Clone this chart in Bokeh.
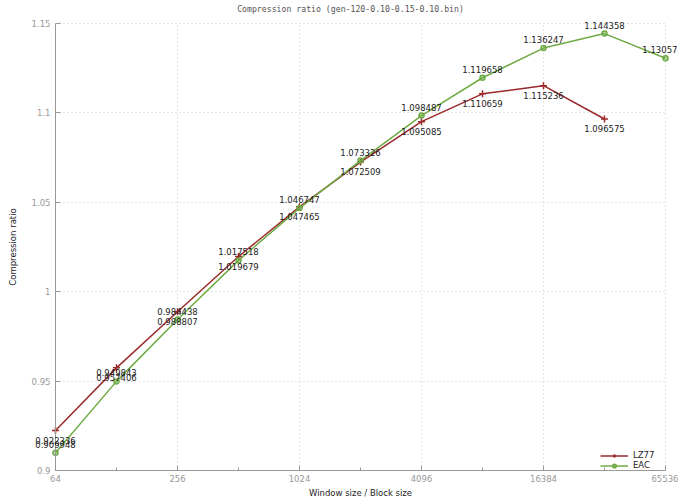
from bokeh.plotting import figure
from bokeh.models import (FixedTicker, Label, Legend, LegendItem,
                          ColumnDataSource, Range1d)
from bokeh.embed import file_html
from bokeh.resources import INLINE

# Window / block sizes and measured compression ratios
sizes_lz77 = [64, 128, 256, 512, 1024, 2048, 4096, 8192, 16384, 32768]
ratio_lz77 = [0.922336, 0.957406, 0.988807, 1.019679, 1.047465, 1.072509,
              1.095085, 1.110659, 1.115236, 1.096575]

sizes_eac = [64, 128, 256, 512, 1024, 2048, 4096, 8192, 16384, 32768, 65536]
ratio_eac = [0.909948, 0.949843, 0.984438, 1.017518, 1.046747, 1.073326,
             1.098487, 1.119658, 1.136247, 1.144358, 1.13057]

x_ticks = [64, 256, 1024, 4096, 16384, 65536]
x_minor = [128, 512, 2048, 8192, 32768]
y_ticks = [0.9, 0.95, 1.0, 1.05, 1.1, 1.15]
y_tick_labels = ["0.9", "0.95", "1", "1.05", "1.1", "1.15"]

RED = "#9b2a2a"
GREEN = "#6fab45"
TICK_GREY = "#999999"
FONT = "DejaVu Sans"

W, H = 678, 498
# plot box inside the canvas (pixels): left, right, top, bottom
BOX_L, BOX_R, BOX_T, BOX_B = 55, 665, 23, 470
X0, X1 = x_ticks[0], x_ticks[-1]
Y0, Y1 = y_ticks[0], y_ticks[-1]

# The frame fills the whole canvas so value labels near the box edges are not clipped;
# the axes are pinned to the box corner instead.
px_per_oct = (BOX_R - BOX_L) / 10.0
x_start = X0 * 2 ** (-BOX_L / px_per_oct)
x_end = X1 * 2 ** ((W - BOX_R) / px_per_oct)
px_per_unit = (BOX_B - BOX_T) / (Y1 - Y0)
y_start = Y0 - (H - BOX_B) / px_per_unit
y_end = Y1 + BOX_T / px_per_unit

p = figure(width=W, height=H, x_axis_type="log",
           x_range=Range1d(x_start, x_end), y_range=Range1d(y_start, y_end),
           output_backend="svg", toolbar_location=None,
           min_border=0, min_border_left=0, min_border_right=0,
           min_border_top=0, min_border_bottom=0)

p.outline_line_color = None
p.background_fill_color = "white"

# axes
p.xaxis.ticker = FixedTicker(ticks=x_ticks, minor_ticks=x_minor)
p.xaxis.major_label_overrides = {t: str(t) for t in x_ticks}
p.yaxis.ticker = FixedTicker(ticks=y_ticks)
p.yaxis.major_label_overrides = {t: s for t, s in zip(y_ticks, y_tick_labels)}
p.xaxis.fixed_location = Y0
p.yaxis.fixed_location = X0
p.xaxis.bounds = (X0, X1)
p.yaxis.bounds = (Y0, Y1)

for ax in (p.xaxis, p.yaxis):
    ax.axis_line_color = TICK_GREY
    ax.major_tick_line_color = TICK_GREY
    ax.minor_tick_line_color = TICK_GREY
    ax.major_tick_in = 5
    ax.major_tick_out = 0
    ax.minor_tick_in = 3
    ax.minor_tick_out = 0
    ax.major_label_text_color = "#999999"
    ax.major_label_text_font = FONT
    ax.major_label_text_font_size = "8.5px"
    ax.axis_label_text_font = FONT
    ax.axis_label_text_font_size = "8.5px"
    ax.axis_label_text_font_style = "normal"
    ax.axis_label_text_color = "#222222"
p.yaxis.minor_tick_line_color = None
p.yaxis.major_label_standoff = 5
p.xaxis.major_label_standoff = 4

p.xaxis.axis_label = "Window size / Block size"
p.yaxis.axis_label = "Compression ratio"
p.xaxis.axis_label_standoff = 3
p.yaxis.axis_label_standoff = 11

p.grid.grid_line_color = "#c8c8c8"
p.grid.grid_line_dash = "1 3"
p.grid.grid_line_width = 1
p.xgrid.bounds = (X0, X1)
p.ygrid.bounds = (Y0, Y1)
p.xgrid.cross_bounds = (Y0, Y1)
p.ygrid.cross_bounds = (X0, X1)

# title
p.add_layout(Label(x=350, y=H - 8, x_units="screen", y_units="screen",
                   text="Compression ratio (gen-120-0.10-0.15-0.10.bin)",
                   text_align="center", text_baseline="middle",
                   text_font="DejaVu Sans Mono", text_font_size="8.2px",
                   text_color="#555555"))

src_lz = ColumnDataSource(dict(x=sizes_lz77, y=ratio_lz77))
src_ea = ColumnDataSource(dict(x=sizes_eac, y=ratio_eac))

l1 = p.line("x", "y", source=src_lz, line_color=RED, line_width=1.5)
m1 = p.scatter("x", "y", source=src_lz, marker="cross", size=7,
               line_color=RED, line_width=1.5)
l2 = p.line("x", "y", source=src_ea, line_color=GREEN, line_width=1.5)
m2 = p.scatter("x", "y", source=src_ea, marker="circle", size=5,
               line_color=GREEN, fill_color=GREEN, fill_alpha=0.4, line_width=1.5)

# value labels: EAC above its points, LZ77 below
for xs, ys, off, base in ((sizes_lz77, ratio_lz77, -6, "top"),
                          (sizes_eac, ratio_eac, 5, "bottom")):
    for xv, yv in zip(xs, ys):
        at_right_edge = xv == X1
        p.add_layout(Label(x=xv, y=yv, text=str(yv), y_offset=off,
                           x_offset=(W - BOX_R - 1) if at_right_edge else 0,
                           text_align="right" if at_right_edge else "center",
                           text_baseline=base,
                           text_font=FONT, text_font_size="8.5px",
                           text_color="#222222"))

legend = Legend(items=[LegendItem(label="LZ77", renderers=[l1, m1]),
                       LegendItem(label="EAC", renderers=[l2, m2])],
                location=(600, H - 470))
legend.background_fill_alpha = 0
legend.border_line_color = None
legend.label_text_font = FONT
legend.label_text_font_size = "8.5px"
legend.label_text_color = "#222222"
legend.glyph_width = 28
legend.glyph_height = 9
legend.label_height = 9
legend.spacing = 0
legend.padding = 2
legend.margin = 0
p.add_layout(legend)

open("out.html", "w").write(file_html(p, INLINE))
